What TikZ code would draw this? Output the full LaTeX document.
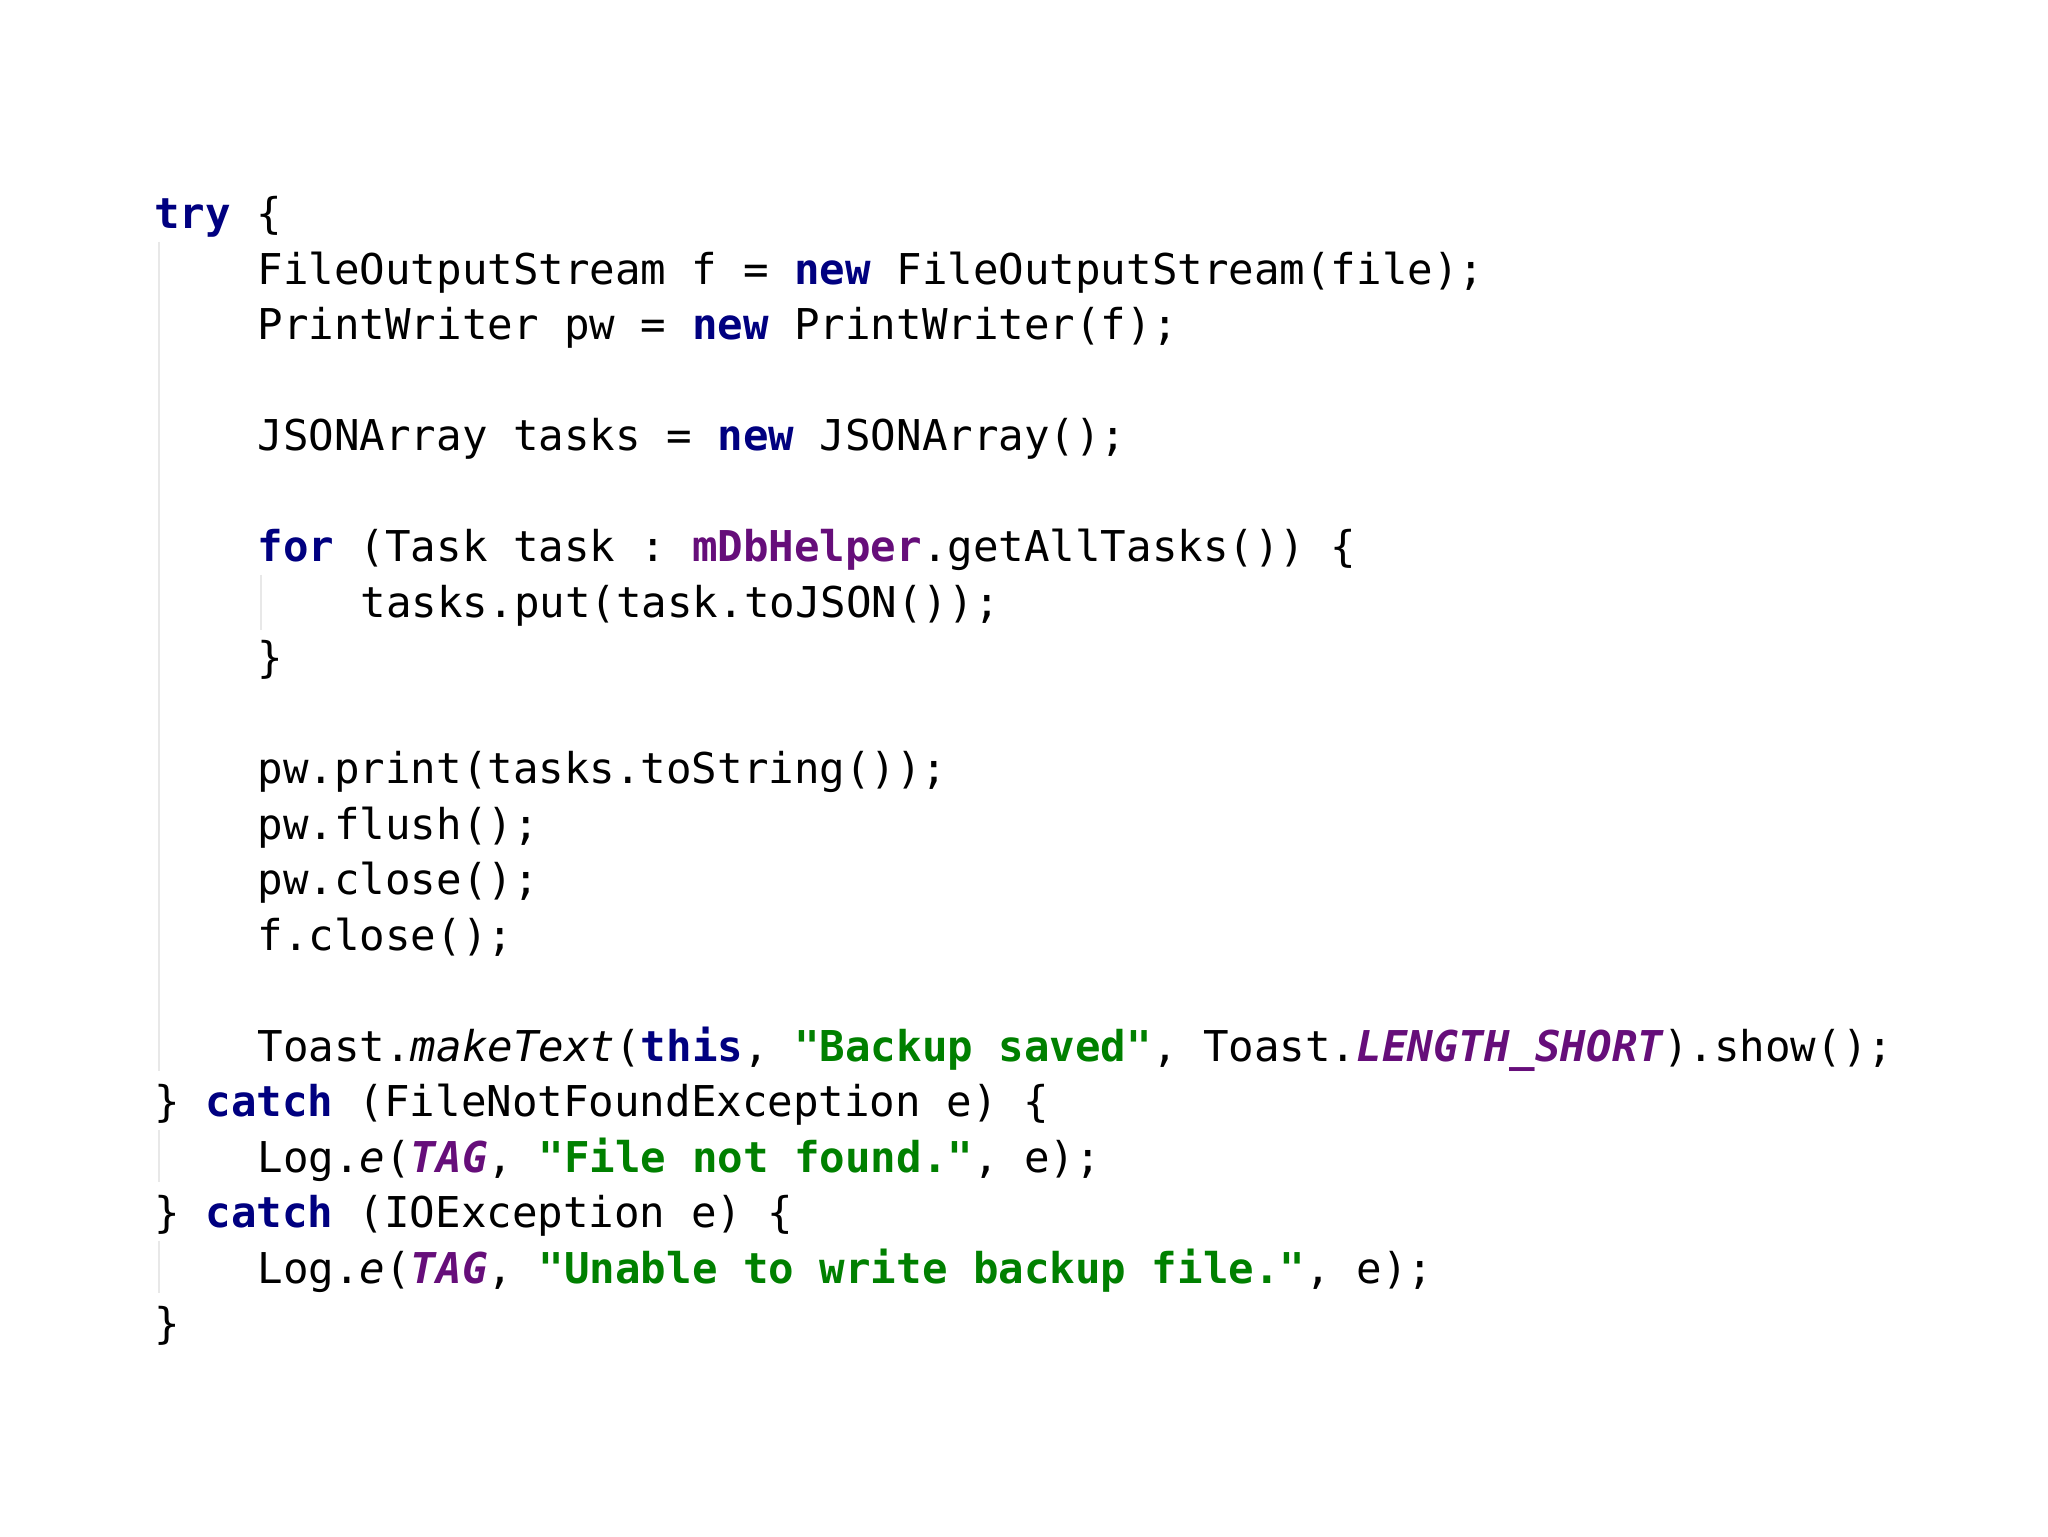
\documentclass[tikz,border=0pt]{standalone}
\usepackage{fontspec}
\setmonofont{DejaVu Sans Mono}
\definecolor{kw}{RGB}{0,0,128}
\definecolor{fld}{RGB}{102,14,122}
\definecolor{str}{RGB}{0,128,0}
\definecolor{guide}{RGB}{232,232,232}
\newcommand{\K}[1]{\textcolor{kw}{\bfseries #1}}
\newcommand{\F}[1]{\textcolor{fld}{\bfseries #1}}
\newcommand{\FI}[1]{\textcolor{fld}{\bfseries\itshape #1}}
\newcommand{\Sg}[1]{\textcolor{str}{\bfseries #1}}
\newcommand{\I}[1]{{\itshape #1}}
\begin{document}
\begin{tikzpicture}[x=1pt,y=1pt,
  code/.style={anchor=base west,inner sep=0pt,font=\ttfamily\fontsize{32.5}{40}\selectfont}]
\useasboundingbox (0,0) rectangle (1568,-1176);
\fill[white] (0,0) rectangle (1568,-1176);
\draw[guide,line width=1.5pt] (122,-185) -- (122,-820);
\draw[guide,line width=1.5pt] (122,-865) -- (122,-905);
\draw[guide,line width=1.5pt] (122,-950) -- (122,-990);
\draw[guide,line width=1.5pt] (200,-440) -- (200,-482);
\def\L#1{-(175+42.5*#1)}
\node[code] (l0) at (118,{-(175+42.5*0)}) {\K{try} \{};
\node[code] (l1) at (197,{-(175+42.5*1)}) {FileOutputStream f = \K{new} FileOutputStream(file);};
\node[code] (l2) at (197,{-(175+42.5*2)}) {PrintWriter pw = \K{new} PrintWriter(f);};
\node[code] (l4) at (197,{-(175+42.5*4)}) {JSONArray tasks = \K{new} JSONArray();};
\node[code] (l6) at (197,{-(175+42.5*6)}) {\K{for} (Task task : \F{mDbHelper}.getAllTasks()) \{};
\node[code] (l7) at (276,{-(175+42.5*7)}) {tasks.put(task.toJSON());};
\node[code] (l8) at (197,{-(175+42.5*8)}) {\}};
\node[code] (l10) at (197,{-(175+42.5*10)}) {pw.print(tasks.toString());};
\node[code] (l11) at (197,{-(175+42.5*11)}) {pw.flush();};
\node[code] (l12) at (197,{-(175+42.5*12)}) {pw.close();};
\node[code] (l13) at (197,{-(175+42.5*13)}) {f.close();};
\node[code] (l15) at (197,{-(175+42.5*15)}) {Toast.\I{makeText}(\K{this}, \Sg{"Backup saved"}, Toast.\FI{LENGTH\_SHORT}).show();};
\node[code] (l16) at (118,{-(175+42.5*16)}) {\} \K{catch} (FileNotFoundException e) \{};
\node[code] (l17) at (197,{-(175+42.5*17)}) {Log.\I{e}(\FI{TAG}, \Sg{"File not found."}, e);};
\node[code] (l18) at (118,{-(175+42.5*18)}) {\} \K{catch} (IOException e) \{};
\node[code] (l19) at (197,{-(175+42.5*19)}) {Log.\I{e}(\FI{TAG}, \Sg{"Unable to write backup file."}, e);};
\node[code] (l20) at (118,{-(175+42.5*20)}) {\}};
\end{tikzpicture}
\end{document}
